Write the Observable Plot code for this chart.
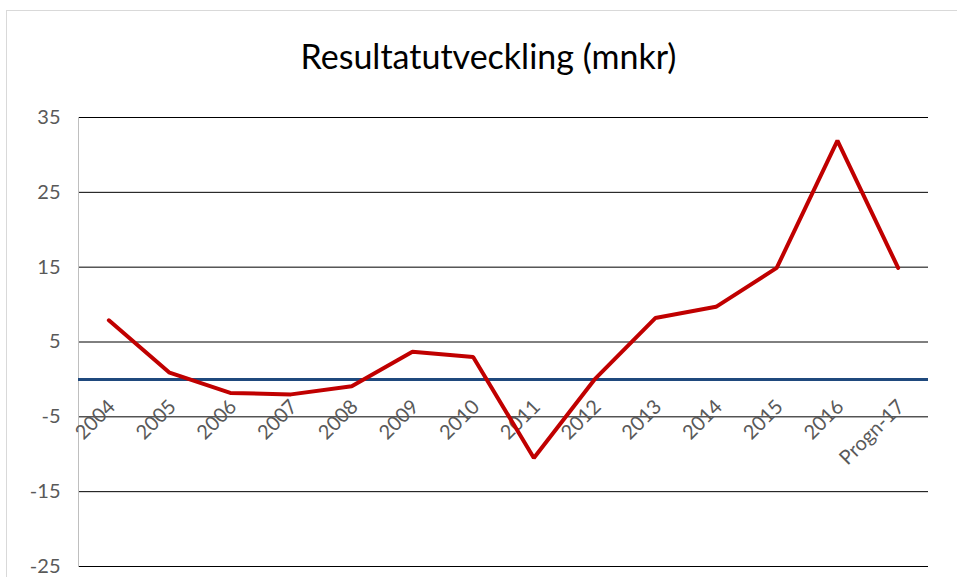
<!DOCTYPE html>
<html>
<head>
<meta charset="utf-8">
<script src="https://cdn.jsdelivr.net/npm/d3@7"></script>
<script src="https://cdn.jsdelivr.net/npm/@observablehq/plot@0.6"></script>
<style>
  html, body { margin: 0; padding: 0; background: #fff; overflow: hidden; }
  #wrap { position: relative; width: 957px; height: 577px; }
  #border { position: absolute; left: 6px; top: 10px; width: 1000px; height: 600px; border: 1px solid #d9d9d9; box-sizing: border-box; }
  #title { position: relative; height: 100px; text-align: center; font-family: Lato, sans-serif; font-size: 34px; color: #000; line-height: 100px; padding-left: 20px; box-sizing: border-box; }
  #title span { position: relative; top: 6px; }
  #chart { position: relative; }
  #chart svg { display: block; }
</style>
</head>
<body>
<div id="wrap">
  <div id="border"></div>
  <div id="title"><span>Resultatutveckling (mnkr)</span></div>
  <div id="chart"></div>
</div>
<script>
const categories = ["2004","2005","2006","2007","2008","2009","2010","2011","2012","2013","2014","2015","2016","Progn-17"];
const values = [7.9, 0.9, -1.8, -2.0, -0.9, 3.7, 3.0, -10.5, 0.0, 8.2, 9.7, 14.9, 31.9, 14.9];
const yTicks = [-25, -15, -5, 5, 15, 25, 35];

const data = categories.map((c, i) => ({cat: c, val: values[i]}));

const chart = Plot.plot({
  width: 957,
  height: 477,
  marginLeft: 78,
  marginRight: 29,
  marginTop: 17,
  marginBottom: 11,
  style: {fontFamily: "Lato, sans-serif", fontSize: "20px", color: "#595959", background: "transparent"},
  x: {type: "point", domain: categories, padding: 0.5, round: false, axis: null},
  y: {domain: [-25, 35], axis: null},
  marks: [
    Plot.ruleY(yTicks, {stroke: "#000", strokeWidth: 1}),
    Plot.frame({anchor: "left", stroke: "#bfbfbf"}),
    Plot.axisY({ticks: yTicks, tickSize: 0, tickPadding: 18, label: null, tickFormat: d => String(d), fill: "#595959", fontSize: 20}),
    Plot.ruleY([0], {stroke: "#1f497d", strokeWidth: 3}),
    Plot.text(categories, {x: d => d, y: () => 0, text: d => d, rotate: -45, textAnchor: "end", dx: 3, dy: 24, fill: "#595959", fontSize: 20}),
    Plot.line(data, {x: "cat", y: "val", stroke: "#c00000", strokeWidth: 4, strokeLinejoin: "miter", strokeLinecap: "round"})
  ]
});
document.getElementById("chart").appendChild(chart);
</script>
</body>
</html>
